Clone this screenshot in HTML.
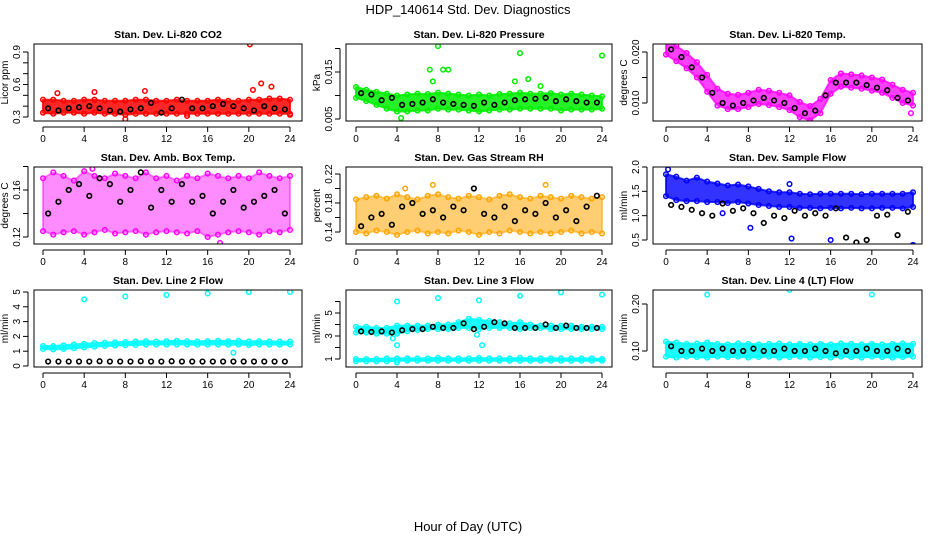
<!DOCTYPE html>
<html><head><meta charset="utf-8">
<style>
body{margin:0;background:#fff;}
svg{display:block;font-family:"Liberation Sans",sans-serif;}
</style></head>
<body>
<svg id="chart" width="936" height="540" viewBox="0 0 936 540">
<text x="468" y="14" text-anchor="middle" font-size="13">HDP_140614  Std. Dev. Diagnostics</text>
<text x="468" y="531" text-anchor="middle" font-size="13">Hour of Day (UTC)</text>
</svg>
<script>
const hours = [0,1,2,3,4,5,6,7,8,9,10,11,12,13,14,15,16,17,18,19,20,21,22,23,24];
const blackHours = [0.5,1.5,2.5,3.5,4.5,5.5,6.5,7.5,8.5,9.5,10.5,11.5,12.5,13.5,14.5,15.5,16.5,17.5,18.5,19.5,20.5,21.5,22.5,23.5];
const xTicks = [0,4,8,12,16,20,24];

// P1 CO2
const co2Hi = [0.46,0.46,0.45,0.45,0.46,0.46,0.45,0.45,0.45,0.46,0.46,0.45,0.45,0.46,0.45,0.45,0.45,0.46,0.45,0.45,0.46,0.46,0.47,0.47,0.46];
const co2Lo = [0.34,0.33,0.34,0.34,0.33,0.34,0.33,0.33,0.32,0.33,0.33,0.33,0.33,0.33,0.33,0.33,0.33,0.33,0.33,0.33,0.33,0.33,0.33,0.33,0.33];
const co2Black = [0.38,0.36,0.38,0.39,0.40,0.38,0.36,0.35,0.37,0.38,0.43,0.34,0.38,0.46,0.38,0.38,0.40,0.42,0.40,0.38,0.36,0.40,0.38,0.37];
const co2OutX = [1.4,5,9.9,8,20.1,20.4,21.2,22.2,14,24];
const co2OutY = [0.52,0.53,0.54,0.28,0.97,0.55,0.61,0.58,0.31,0.32];
// P2 pressure
const presHi = [0.0118,0.0112,0.0108,0.0104,0.0100,0.0102,0.0104,0.0103,0.0106,0.0104,0.0102,0.0100,0.0102,0.0100,0.0103,0.0104,0.0106,0.0104,0.0104,0.0105,0.0102,0.0104,0.0102,0.0100,0.0098];
const presLo = [0.0095,0.0088,0.0080,0.0072,0.0066,0.0066,0.0068,0.0068,0.0072,0.0070,0.0070,0.0068,0.0066,0.0068,0.0070,0.0070,0.0072,0.0072,0.0072,0.0072,0.0068,0.0070,0.0070,0.0070,0.0072];
const presBlack = [0.0105,0.0102,0.0090,0.0095,0.0080,0.0082,0.0085,0.0092,0.0085,0.0082,0.0080,0.0078,0.0085,0.0080,0.0085,0.0090,0.0092,0.0093,0.0095,0.0088,0.0092,0.0088,0.0085,0.0085];
const presOutX = [8,16,24,7.2,8.5,9,16.8,4.4,15.5,7.5,18];
const presOutY = [0.0205,0.0190,0.0185,0.0155,0.0155,0.0155,0.0135,0.0052,0.0130,0.0130,0.0120];
// P3 temp
const tempHi = [0.0225,0.0212,0.0198,0.0180,0.0155,0.0128,0.0118,0.0116,0.0120,0.0126,0.0124,0.0120,0.0115,0.0102,0.0094,0.0108,0.0145,0.0158,0.0156,0.0154,0.0150,0.0146,0.0136,0.0126,0.0120];
const tempLo = [0.0195,0.0182,0.0168,0.0150,0.0122,0.0095,0.0088,0.0088,0.0092,0.0098,0.0096,0.0092,0.0086,0.0072,0.0066,0.0080,0.0118,0.0132,0.0130,0.0128,0.0124,0.0120,0.0110,0.0100,0.0095];
const tempBlack = [0.0205,0.0190,0.0170,0.0150,0.0120,0.0100,0.0095,0.0100,0.0105,0.0110,0.0105,0.0100,0.0090,0.0080,0.0085,0.0115,0.0140,0.0140,0.0140,0.0135,0.0130,0.0125,0.0110,0.0105];
const tempOutX = [24,23.8];
const tempOutY = [0.0055,0.0080];
// P4 amb box temp
const ambHi = [0.170,0.175,0.172,0.168,0.176,0.172,0.170,0.174,0.172,0.170,0.175,0.170,0.172,0.168,0.172,0.170,0.174,0.172,0.170,0.172,0.170,0.175,0.172,0.170,0.172];
const ambLo = [0.125,0.122,0.124,0.125,0.122,0.124,0.126,0.123,0.124,0.125,0.122,0.124,0.125,0.124,0.123,0.125,0.120,0.122,0.124,0.125,0.124,0.122,0.125,0.124,0.126];
const ambBlack = [0.140,0.150,0.160,0.165,0.155,0.170,0.165,0.150,0.160,0.175,0.145,0.160,0.150,0.165,0.150,0.155,0.140,0.150,0.160,0.145,0.150,0.155,0.160,0.140];
const ambOutX = [8.5,16.5,19.2,4.8,17.2];
const ambOutY = [0.190,0.185,0.192,0.178,0.115];
// P5 gas stream RH
const rhHi = [0.185,0.188,0.190,0.186,0.192,0.188,0.185,0.190,0.192,0.188,0.186,0.190,0.188,0.185,0.190,0.192,0.188,0.186,0.190,0.188,0.186,0.190,0.188,0.186,0.188];
const rhLo = [0.140,0.138,0.142,0.140,0.136,0.140,0.142,0.138,0.140,0.138,0.142,0.140,0.136,0.140,0.138,0.142,0.140,0.138,0.140,0.138,0.140,0.142,0.138,0.140,0.138];
const rhBlack = [0.148,0.160,0.165,0.150,0.175,0.180,0.165,0.170,0.160,0.175,0.170,0.200,0.165,0.160,0.175,0.155,0.170,0.165,0.180,0.160,0.170,0.155,0.175,0.190];
const rhOutX = [12,7.5,18.5,4.8];
const rhOutY = [0.235,0.205,0.205,0.200];
// P6 sample flow
const sfHi = [1.85,1.80,1.72,1.78,1.70,1.66,1.62,1.64,1.60,1.55,1.50,1.48,1.48,1.45,1.44,1.45,1.45,1.45,1.45,1.44,1.45,1.45,1.45,1.45,1.48];
const sfLo = [1.40,1.32,1.30,1.30,1.28,1.28,1.26,1.28,1.25,1.22,1.20,1.18,1.18,1.16,1.16,1.15,1.16,1.15,1.16,1.15,1.15,1.16,1.16,1.15,1.18];
const sfBlack = [1.22,1.18,1.12,1.05,1.00,1.25,1.10,1.15,1.05,0.85,1.00,0.95,1.10,1.00,1.05,1.00,1.15,0.55,0.45,0.50,1.00,1.02,0.60,1.08];
const sfOutX = [8.2,12.2,16,24,5.5,12,0.2];
const sfOutY = [0.75,0.53,0.50,0.40,1.05,1.65,1.95];
// P7 line 2 flow
const l2Hi = [1.35,1.35,1.40,1.45,1.50,1.55,1.58,1.60,1.62,1.65,1.68,1.65,1.68,1.70,1.68,1.66,1.68,1.70,1.68,1.70,1.66,1.68,1.66,1.65,1.65];
const l2Lo = [1.15,1.12,1.15,1.20,1.25,1.30,1.35,1.38,1.40,1.42,1.45,1.45,1.45,1.45,1.45,1.44,1.45,1.45,1.44,1.45,1.42,1.45,1.45,1.44,1.45];
const l2Black = [0.30,0.30,0.30,0.30,0.30,0.32,0.30,0.30,0.30,0.32,0.30,0.30,0.32,0.30,0.30,0.30,0.30,0.30,0.30,0.30,0.30,0.30,0.30,0.30];
const l2OutX = [4,8,12,16,20,24,18.5];
const l2OutY = [4.5,4.7,4.8,4.9,5.0,5.0,0.9];
// P8 line 3 flow
const l3Hi = [3.8,3.8,3.7,3.7,3.9,3.9,3.9,3.9,4.0,4.0,4.2,4.5,4.4,4.3,4.2,4.1,4.2,4.0,3.9,3.9,3.9,3.9,3.8,3.8,3.8];
const l3Lo = [3.3,3.3,3.2,3.2,3.2,3.4,3.5,3.6,3.6,3.6,3.7,3.7,3.6,3.7,3.7,3.7,3.6,3.7,3.7,3.6,3.6,3.6,3.6,3.6,3.6];
const l3Band2Hi = [1.0,1.0,1.0,1.05,1.05,1.05,1.05,1.05,1.1,1.05,1.05,1.05,1.1,1.05,1.05,1.05,1.1,1.05,1.05,1.05,1.05,1.05,1.05,1.05,1.0];
const l3Band2Lo = [0.8,0.8,0.8,0.8,0.85,0.85,0.85,0.85,0.85,0.85,0.85,0.85,0.85,0.85,0.85,0.85,0.85,0.85,0.85,0.85,0.85,0.85,0.85,0.85,0.85];
const l3Black = [3.4,3.35,3.4,3.3,3.5,3.6,3.6,3.8,3.7,3.7,4.1,3.6,3.8,4.2,4.1,3.7,3.7,3.7,4.0,3.7,3.9,3.7,3.7,3.7];
const l3OutX = [4,8,12,16,20,24,12.3,3.6,4,4,11.8];
const l3OutY = [6.0,6.3,6.1,6.5,6.8,6.6,2.2,2.8,2.2,0.7,3.1];
// P9 line 4 flow
const l4Hi = [0.120,0.118,0.115,0.116,0.118,0.115,0.114,0.116,0.115,0.114,0.115,0.116,0.114,0.115,0.114,0.115,0.114,0.116,0.115,0.114,0.115,0.114,0.115,0.116,0.115];
const l4Lo = [0.088,0.086,0.088,0.087,0.086,0.088,0.087,0.088,0.086,0.087,0.088,0.086,0.087,0.088,0.086,0.087,0.086,0.088,0.087,0.086,0.088,0.087,0.086,0.087,0.088];
const l4Black = [0.110,0.100,0.100,0.105,0.100,0.105,0.100,0.100,0.105,0.100,0.100,0.105,0.100,0.100,0.105,0.100,0.095,0.100,0.100,0.105,0.100,0.100,0.105,0.100];
const l4OutX = [4,12,20];
const l4OutY = [0.22,0.23,0.22];

const NS = 'http://www.w3.org/2000/svg';
const svg = document.getElementById('chart');
function mk(tag, attrs, parent){const e=document.createElementNS(NS,tag);for(const k in attrs)e.setAttribute(k,attrs[k]);(parent||svg).appendChild(e);return e;}

const cols=[{l:34,r:302,x0:43,x1:290},{l:346,r:612,x0:356,x1:602},{l:653,r:922,x0:666,x1:913}];
const rows=[{t:44,b:121},{t:167,b:244},{t:290,b:367}];

const panels=[
 {name:'co2',title:'Stan. Dev. Li-820 CO2',ylab:'Licor ppm',c:0,r:0,col:'#ff0000',v0:0.3,p0:117,v1:0.9,p1:52,ticks:[0.3,0.4,0.5,0.6,0.7,0.8,0.9],labels:['0.3','','','0.6','','','0.9'],hi:co2Hi,lo:co2Lo,blk:co2Black,ox:co2OutX,oy:co2OutY,op:0.85},
 {name:'pressure',title:'Stan. Dev. Li-820 Pressure',ylab:'kPa',c:1,r:0,col:'#00ee00',v0:0.005,p0:119,v1:0.015,p1:72,ticks:[0.005,0.010,0.015,0.020],labels:['0.005','','0.015',''],hi:presHi,lo:presLo,blk:presBlack,ox:presOutX,oy:presOutY,op:0.85},
 {name:'temp',title:'Stan. Dev. Li-820 Temp.',ylab:'degrees C',c:2,r:0,col:'#ff00ff',v0:0.010,p0:103,v1:0.020,p1:52,ticks:[0.010,0.015,0.020],labels:['0.010','','0.020'],hi:tempHi,lo:tempLo,blk:tempBlack,ox:tempOutX,oy:tempOutY,op:0.75},
 {name:'amb-temp',title:'Stan. Dev. Amb. Box Temp.',ylab:'degrees C',c:0,r:1,col:'#ff00ff',v0:0.12,p0:237,v1:0.16,p1:190,ticks:[0.12,0.14,0.16,0.18],labels:['0.12','','0.16',''],hi:ambHi,lo:ambLo,blk:ambBlack,ox:ambOutX,oy:ambOutY,op:0.45},
 {name:'rh',title:'Stan. Dev. Gas Stream RH',ylab:'percent',c:1,r:1,col:'#ffa500',v0:0.14,p0:232,v1:0.22,p1:174,ticks:[0.14,0.16,0.18,0.20,0.22],labels:['0.14','','0.18','','0.22'],hi:rhHi,lo:rhLo,blk:rhBlack,ox:rhOutX,oy:rhOutY,op:0.55},
 {name:'sample-flow',title:'Stan. Dev. Sample Flow',ylab:'ml/min',c:2,r:1,col:'#0000ff',v0:0.5,p0:240,v1:2.0,p1:167,ticks:[0.5,1.0,1.5,2.0],labels:['0.5','1.0','1.5','2.0'],hi:sfHi,lo:sfLo,blk:sfBlack,ox:sfOutX,oy:sfOutY,op:0.8},
 {name:'line2-flow',title:'Stan. Dev. Line 2 Flow',ylab:'ml/min',c:0,r:2,col:'#00ffff',v0:0,p0:366,v1:5,p1:292,ticks:[0,1,2,3,4,5],labels:['0','1','2','3','4','5'],hi:l2Hi,lo:l2Lo,blk:l2Black,ox:l2OutX,oy:l2OutY,op:0.9},
 {name:'line3-flow',title:'Stan. Dev. Line 3 Flow',ylab:'ml/min',c:1,r:2,col:'#00ffff',v0:1,p0:359,v1:5,p1:313,ticks:[1,2,3,4,5,6],labels:['1','','3','','5',''],hi:l3Hi,lo:l3Lo,hi2:l3Band2Hi,lo2:l3Band2Lo,blk:l3Black,ox:l3OutX,oy:l3OutY,op:0.9},
 {name:'line4-flow',title:'Stan. Dev. Line 4 (LT) Flow',ylab:'ml/min',c:2,r:2,col:'#00ffff',v0:0.10,p0:351,v1:0.20,p1:304,ticks:[0.10,0.20],labels:['0.10','0.20'],hi:l4Hi,lo:l4Lo,blk:l4Black,ox:l4OutX,oy:l4OutY,op:0.9}
];

panels.forEach(p=>{
 const C=cols[p.c],R=rows[p.r];
 const xs=h=>C.x0+(C.x1-C.x0)*h/24;
 const ys=v=>p.p0+(p.p1-p.p0)*(v-p.v0)/(p.v1-p.v0);
 const g=mk('g',{});
 
 
 const clipId='clip-'+p.name;
 const cp=mk('clipPath',{id:clipId},g);
 mk('rect',{x:C.l,y:R.t,width:C.r-C.l,height:R.b-R.t},cp);
 const dg=mk('g',{'clip-path':'url(#'+clipId+')'},g);
 const bands=[[p.hi,p.lo]];
 if(p.hi2) bands.push([p.hi2,p.lo2]);
 bands.forEach(([hi,lo])=>{
  let d='';
  hours.forEach((h,i)=>{d+=(i?'L':'M')+xs(h).toFixed(1)+','+ys(hi[i]).toFixed(1);});
  for(let i=hours.length-1;i>=0;i--) d+='L'+xs(hours[i]).toFixed(1)+','+ys(lo[i]).toFixed(1);
  const band=mk('path',{d:d+'Z',fill:p.col,'fill-opacity':p.op,stroke:p.col,'stroke-width':2,'stroke-opacity':p.op,'stroke-linejoin':'round'},dg);
  
  
  hours.forEach((h,i)=>{
   [hi[i],lo[i]].forEach(v=>{
    const c=mk('circle',{cx:xs(h),cy:ys(v),r:2.3,fill:'none',stroke:p.col,'stroke-width':1.5},dg);
    
    
   });
  });
 });
 p.ox.forEach((x,i)=>{
  const c=mk('circle',{cx:xs(x),cy:ys(p.oy[i]),r:2.3,fill:'none',stroke:p.col,'stroke-width':1.5},dg);
  
  
 });
 blackHours.forEach((h,i)=>{
  const c=mk('circle',{cx:xs(h),cy:ys(p.blk[i]),r:2.3,fill:'none',stroke:'#000','stroke-width':1.6},dg);
  
  
 });
 mk('rect',{x:C.l,y:R.t,width:C.r-C.l,height:R.b-R.t,fill:'none',stroke:'#000','stroke-width':1},g);
 const t=mk('text',{x:(C.l+C.r)/2,y:R.t-6,'text-anchor':'middle','font-size':10.5,'font-weight':'bold'},g);
 t.textContent=p.title;
 
 
 mk('line',{x1:xs(0),x2:xs(24),y1:R.b+6,y2:R.b+6,stroke:'#000'},g);
 xTicks.forEach(h=>{
  mk('line',{x1:xs(h),x2:xs(h),y1:R.b+6,y2:R.b+11,stroke:'#000'},g);
  const tl=mk('text',{x:xs(h),y:R.b+21,'text-anchor':'middle','font-size':10},g);
  tl.textContent=h;
  
  
 });
 const ax=C.l-6;
 const tp=p.ticks.map(ys);
 mk('line',{x1:ax,x2:ax,y1:Math.min(...tp),y2:Math.max(...tp),stroke:'#000'},g);
 p.ticks.forEach((v,i)=>{
  const y=ys(v);
  mk('line',{x1:ax-5,x2:ax,y1:y,y2:y,stroke:'#000'},g);
  if(p.labels[i]){
   const tl=mk('text',{x:ax-8,y:y,'text-anchor':'middle','font-size':10,transform:'rotate(-90 '+(ax-8)+' '+y+')'},g);
   tl.textContent=p.labels[i];
   
   
  }
 });
 const yl=mk('text',{x:C.l-26,y:(R.t+R.b)/2,'text-anchor':'middle','font-size':10,transform:'rotate(-90 '+(C.l-26)+' '+((R.t+R.b)/2)+')'},g);
 yl.textContent=p.ylab;
 
 
});
</script>
</body></html>
